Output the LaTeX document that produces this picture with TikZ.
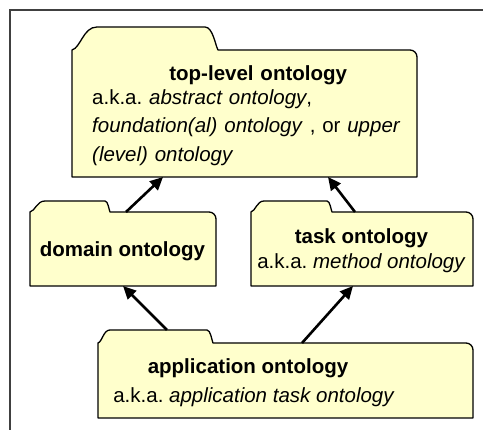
\documentclass[tikz,border=0pt]{standalone}
\usepackage{fontspec}
\setmainfont{Liberation Sans}
\usepackage{tikz}
\usetikzlibrary{arrows.meta}
\usetikzlibrary{calc}
\definecolor{folderfill}{RGB}{255,255,204}
\tikzset{
    body/.style={
        inner sep=0pt,
        outer sep=0pt
    },
    folder/.style={
        draw=black,
        fill=folderfill,
        line width=1.3pt,
        line join=round
    },
    txt/.style={
        inner sep=0pt,
        font=\fontsize{20.5}{25}\selectfont
    },
    isa/.style={
        draw,
        -{Triangle[length=13pt, width=12pt]},
        line width=2.6pt
    },
    frame/.style={
        draw=black!75,
        line width=2pt
    }
}
% folder outline: node, tab height, rise, end of flat top, end of tab
\newcommand{\drawfolder}[5]{%
  \draw[folder] (#1.south west) -- (#1.north west)
    .. controls ($(#1.north west)+({0.35*#3},{0.1*#2})$) and ($(#1.north west)+({0.45*#3},#2)$) .. ($(#1.north west)+(#3,#2)$)
    -- ($(#1.north west)+(#4,#2)$)
    .. controls ($(#1.north west)+({#4+0.6*(#5-#4)},#2)$) and ($(#1.north west)+({#4+0.8*(#5-#4)},{0.2*#2})$) .. ($(#1.north west)+(#5,0)$)
    -- ($(#1.north east)+(-7,0)$) arc[start angle=90, end angle=0, radius=7]
    -- (#1.south east) -- cycle;
}

\begin{document}
\frenchspacing
\begin{tikzpicture}[x=1pt, y=1pt]
    \useasboundingbox (0,0) rectangle (483,430);
    \draw[frame] (10,-5) -- (10,420) -- (490,420);

    % Folders
    \node[body, minimum width=345pt, minimum height=127pt] (top) at (244.5,316.5) {};
    \node[body, minimum width=186pt, minimum height=74pt] (dom) at (123,181) {};
    \node[body, minimum width=222pt, minimum height=74pt] (task) at (362,181) {};
    \node[body, minimum width=375pt, minimum height=75pt] (app) at (285.5,49.5) {};
    \drawfolder{top}{23}{25}{133}{146}
    \drawfolder{dom}{11}{15}{75}{80}
    \drawfolder{task}{11}{13}{76}{81}
    \drawfolder{app}{13}{12}{109}{115}

    % Labels
    \node[txt, text width=332pt, align=left, anchor=north west] (topTxt) at (92,365)
        {\makebox[\linewidth]{\bfseries top-level ontology}\\[-1pt]
         a.k.a. \textit{abstract ontology},\\[3.5pt]
         \textit{foundation(al) ontology} , or \textit{upper}\\[3.5pt]
         \textit{(level) ontology}};
    \node[txt, font=\fontsize{20.5}{25}\selectfont\bfseries] (domTxt) at (122.5,178.5) {domain ontology};
    \node[txt, align=center, anchor=north] (taskTxt) at (361.5,202)
        {\textbf{task ontology}\\ a.k.a. \textit{method ontology}};
    \node[txt, align=center, anchor=north] (appTxt) at (248,72)
        {\textbf{application ontology}\\[4pt] \hspace*{12pt}a.k.a. \textit{application task ontology}};

    % Arrows
    \draw[isa] ([xshift=96pt]dom.north west) -- ([xshift=91pt]top.south west);
    \draw[isa] ([xshift=104pt]task.north west) -- ([xshift=256pt]top.south west);
    \draw[isa] ([xshift=69pt, yshift=13pt]app.north west) -- ([xshift=93pt]dom.south west);
    \draw[isa] ([xshift=204pt]app.north west) -- ([xshift=102pt]task.south west);
\end{tikzpicture}
\end{document}
